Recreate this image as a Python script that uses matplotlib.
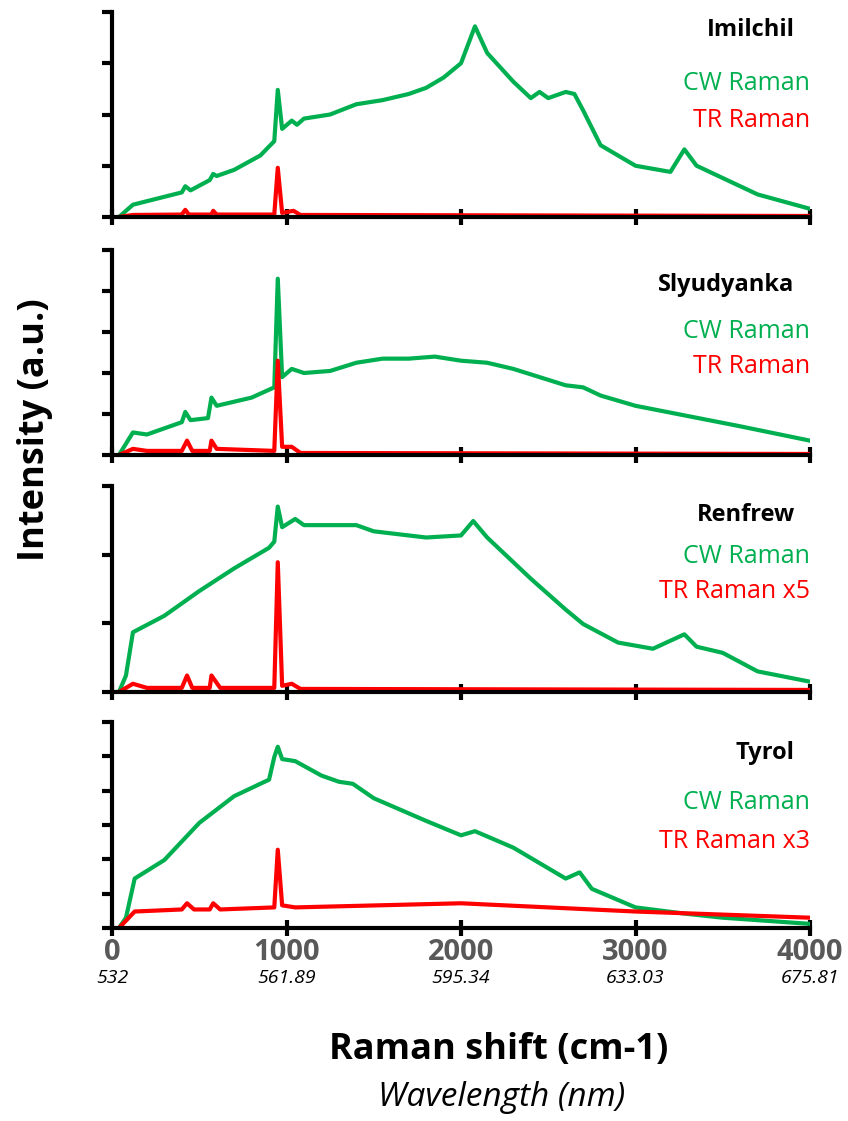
import matplotlib
matplotlib.use('Agg')
import matplotlib.pyplot as plt

plt.rcParams['font.family'] = ['Open Sans', 'DejaVu Sans']

GREEN = '#00B050'
RED = '#FF0000'

names = ['Imilchil', 'Slyudyanka', 'Renfrew', 'Tyrol']
tr_labels = ['TR Raman', 'TR Raman', 'TR Raman x5', 'TR Raman x3']
n_ticks = [4, 5, 3, 6]

# spectra (x in cm-1, y as fraction of panel height)
cw_x = [
    [40, 120, 400, 420, 450, 560, 580, 600, 700, 850, 930, 950, 975, 1030, 1060, 1100, 1250, 1400, 1550, 1700, 1800, 1900, 2000, 2080, 2150, 2300, 2400, 2450, 2500, 2600, 2650, 2700, 2800, 3000, 3200, 3280, 3350, 3500, 3700, 4000],
    [40, 120, 200, 400, 420, 450, 550, 570, 600, 800, 930, 950, 975, 1030, 1100, 1250, 1400, 1550, 1700, 1850, 2000, 2150, 2300, 2450, 2600, 2700, 2800, 3000, 3300, 3600, 4000],
    [40, 80, 120, 300, 500, 700, 900, 930, 950, 975, 1050, 1100, 1300, 1400, 1500, 1800, 2000, 2070, 2150, 2400, 2600, 2700, 2900, 3100, 3280, 3350, 3500, 3700, 4000],
    [40, 80, 130, 300, 500, 700, 900, 930, 950, 975, 1050, 1200, 1300, 1380, 1500, 1800, 2000, 2080, 2300, 2600, 2680, 2750, 3000, 3280, 3500, 4000],
]
cw_y = [
    [0, 0.06, 0.12, 0.15, 0.13, 0.18, 0.21, 0.2, 0.23, 0.3, 0.37, 0.62, 0.43, 0.47, 0.45, 0.48, 0.5, 0.55, 0.57, 0.6, 0.63, 0.68, 0.75, 0.93, 0.8, 0.66, 0.58, 0.61, 0.58, 0.61, 0.6, 0.52, 0.35, 0.25, 0.22, 0.33, 0.25, 0.19, 0.11, 0.04],
    [0, 0.11, 0.1, 0.16, 0.21, 0.17, 0.18, 0.28, 0.24, 0.28, 0.33, 0.86, 0.38, 0.42, 0.4, 0.41, 0.45, 0.47, 0.47, 0.48, 0.46, 0.45, 0.42, 0.38, 0.34, 0.33, 0.29, 0.24, 0.19, 0.14, 0.07],
    [0, 0.08, 0.29, 0.37, 0.49, 0.6, 0.7, 0.73, 0.9, 0.8, 0.84, 0.81, 0.81, 0.81, 0.78, 0.75, 0.76, 0.83, 0.75, 0.55, 0.4, 0.33, 0.24, 0.21, 0.28, 0.22, 0.19, 0.1, 0.05],
    [0, 0.05, 0.24, 0.33, 0.51, 0.64, 0.72, 0.83, 0.88, 0.82, 0.81, 0.74, 0.71, 0.7, 0.63, 0.52, 0.45, 0.47, 0.39, 0.24, 0.27, 0.19, 0.1, 0.07, 0.05, 0.02],
]
tr_x = [
    [40, 120, 400, 420, 440, 570, 580, 600, 930, 950, 975, 1040, 1080, 4000],
    [40, 120, 200, 400, 430, 460, 560, 570, 600, 930, 950, 975, 1030, 1080, 4000],
    [40, 120, 200, 400, 430, 460, 560, 570, 620, 930, 950, 975, 1030, 1080, 4000],
    [40, 130, 400, 430, 470, 560, 580, 620, 930, 950, 975, 1050, 2000, 3000, 4000],
]
tr_y = [
    [0, 0.01, 0.012, 0.035, 0.012, 0.012, 0.03, 0.012, 0.012, 0.24, 0.02, 0.03, 0.01, 0.005],
    [0, 0.03, 0.02, 0.02, 0.07, 0.02, 0.02, 0.07, 0.03, 0.02, 0.46, 0.04, 0.04, 0.01, 0.005],
    [0, 0.04, 0.02, 0.02, 0.08, 0.02, 0.02, 0.08, 0.02, 0.02, 0.63, 0.03, 0.04, 0.015, 0.01],
    [0, 0.08, 0.09, 0.12, 0.09, 0.09, 0.12, 0.09, 0.1, 0.38, 0.11, 0.1, 0.12, 0.08, 0.05],
]

shift_ticks = [0, 1000, 2000, 3000, 4000]
wl_labels = ['532', '561.89', '595.34', '633.03', '675.81']

# label heights (fraction of panel): name, CW, TR
label_y = [(0.91, 0.65, 0.47), (0.83, 0.6, 0.43), (0.86, 0.66, 0.49), (0.85, 0.61, 0.42)]

W, H = 848, 1121
fig = plt.figure(figsize=(W / 100, H / 100), dpi=100)
tops = [12, 250, 486, 722]
bots = [217, 455, 692, 928]

for i in range(4):
    ax = fig.add_axes([112 / W, 1 - bots[i] / H, (810 - 112) / W, (bots[i] - tops[i]) / H])
    ax.plot(cw_x[i], cw_y[i], color=GREEN, lw=3, solid_joinstyle='round')
    ax.plot(tr_x[i], tr_y[i], color=RED, lw=3, solid_joinstyle='round')
    ax.set_xlim(0, 4000)
    ax.set_ylim(0, 1)
    ax.set_yticks([k / n_ticks[i] for k in range(n_ticks[i] + 1)])
    ax.set_yticklabels([])
    ax.set_xticks(shift_ticks)
    for s in ['top', 'right']:
        ax.spines[s].set_visible(False)
    for s in ['left', 'bottom']:
        ax.spines[s].set_linewidth(3)
    ax.tick_params(width=3, length=7, direction='out')
    ax.tick_params(axis='x', direction='inout', length=12)
    ny, cy, ty = label_y[i]
    ax.text(0.978, ny, names[i], transform=ax.transAxes, ha='right', va='center', fontsize=17, fontweight='bold')
    ax.text(1.0, cy, 'CW Raman', transform=ax.transAxes, ha='right', va='center', fontsize=18, color=GREEN)
    ax.text(1.0, ty, tr_labels[i], transform=ax.transAxes, ha='right', va='center', fontsize=18, color=RED)
    if i < 3:
        ax.set_xticklabels([])
    else:
        ax.set_xticklabels([str(t) for t in shift_ticks], fontsize=21, fontweight='bold', color='#595959')
        ax.tick_params(axis='x', pad=1)
        for t, w in zip(shift_ticks, wl_labels):
            ax.text(t, -0.2, w, ha='center', va='top', fontsize=14, style='italic',
                    transform=ax.get_xaxis_transform())

fig.text(0.588, 1 - 1050 / H, 'Raman shift (cm-1)', ha='center', va='center', fontsize=26, fontweight='bold')
fig.text(0.591, 1 - 1097 / H, 'Wavelength (nm)', ha='center', va='center', fontsize=24, style='italic')
fig.text(0.041, 1 - 430 / H, 'Intensity (a.u.)', ha='center', va='center', fontsize=26, fontweight='bold', rotation=90)

fig.savefig('out.png', dpi=100)
